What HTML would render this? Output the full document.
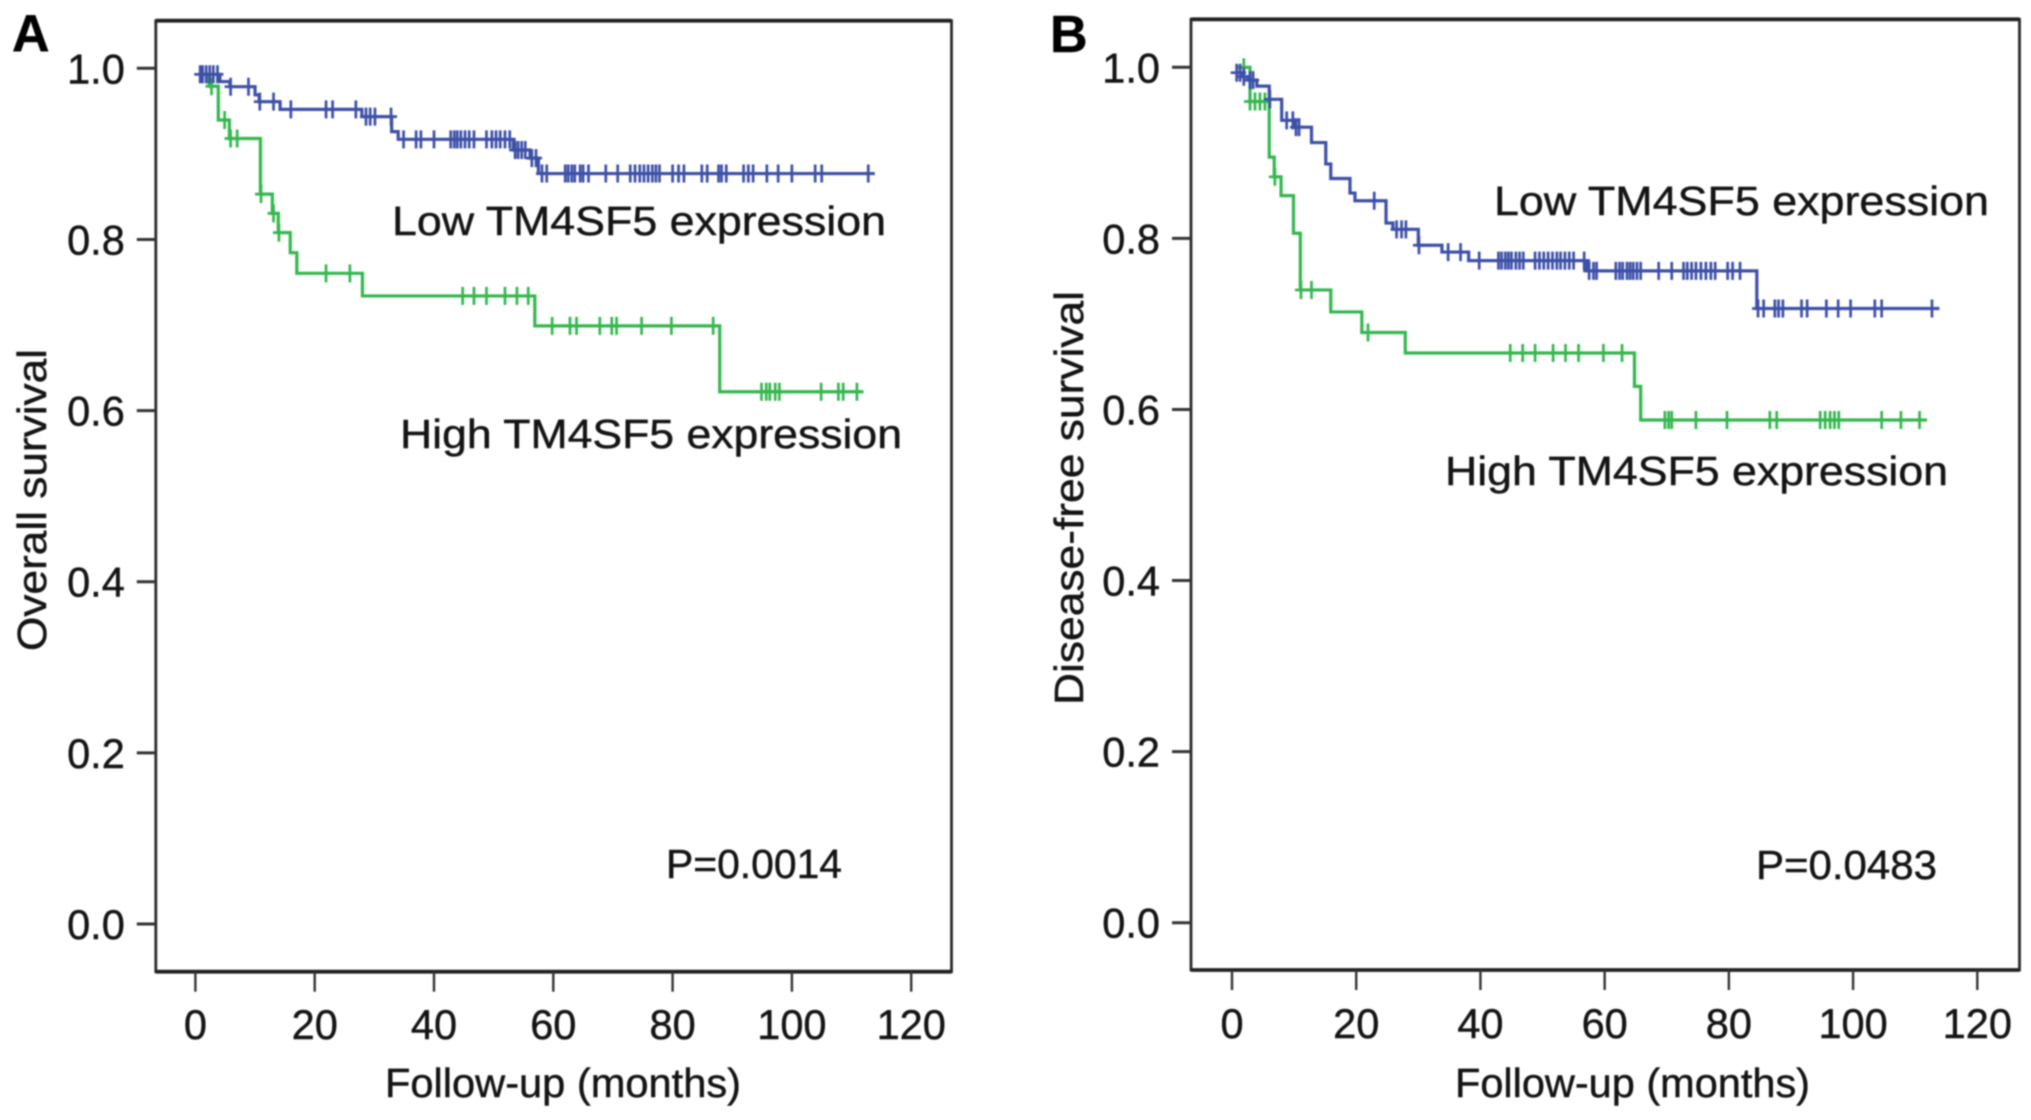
<!DOCTYPE html>
<html lang="en">
<head>
<meta charset="utf-8">
<title>Kaplan-Meier survival curves by TM4SF5 expression</title>
<style>
  html, body { margin: 0; padding: 0; background: #fff; }
  #figure { display: block; width: 2031px; height: 1120px; filter: blur(0.7px); }
  text { font-family: "Liberation Sans", Arial, sans-serif; fill: #141414; stroke: #141414; stroke-width: 0.45px; }
</style>
</head>
<body>
<svg id="figure" xmlns="http://www.w3.org/2000/svg" width="2031" height="1120" viewBox="0 0 2031 1120">
  <rect width="2031" height="1120" fill="#fff"/>

  <g id="panel-a">
    <text x="12" y="51" font-size="52" font-weight="bold" style="fill:#000">A</text>
    <text transform="translate(46,500) rotate(-90)" text-anchor="middle" font-size="41" textLength="302" lengthAdjust="spacingAndGlyphs">Overall survival</text>
    <text x="385" y="1097" font-size="41" textLength="356" lengthAdjust="spacingAndGlyphs">Follow-up (months)</text>
    <text x="392" y="235" font-size="41" textLength="494" lengthAdjust="spacingAndGlyphs">Low TM4SF5 expression</text>
    <text x="400" y="448" font-size="41" textLength="502" lengthAdjust="spacingAndGlyphs">High TM4SF5 expression</text>
    <text x="666" y="878" font-size="41" textLength="176" lengthAdjust="spacingAndGlyphs">P=0.0014</text>
  </g>

  <g id="panel-b">
    <text x="1050" y="52" font-size="52" font-weight="bold" style="fill:#000">B</text>
    <text transform="translate(1083,498) rotate(-90)" text-anchor="middle" font-size="41" textLength="414" lengthAdjust="spacingAndGlyphs">Disease-free survival</text>
    <text x="1455" y="1097" font-size="41" textLength="355" lengthAdjust="spacingAndGlyphs">Follow-up (months)</text>
    <text x="1494" y="215" font-size="41" textLength="495" lengthAdjust="spacingAndGlyphs">Low TM4SF5 expression</text>
    <text x="1445" y="485" font-size="41" textLength="503" lengthAdjust="spacingAndGlyphs">High TM4SF5 expression</text>
    <text x="1756" y="879" font-size="41" textLength="181" lengthAdjust="spacingAndGlyphs">P=0.0483</text>
  </g>
</svg>

<script>
// Shared axis tick values
const xTickValues = [0, 20, 40, 60, 80, 100, 120];
const yTickValues = [0.0, 0.2, 0.4, 0.6, 0.8, 1.0];
const yTickLabels = ["0.0", "0.2", "0.4", "0.6", "0.8", "1.0"];

// Panel A: overall survival
const lowTimesA  = [0.6, 4.1, 5.8, 10, 10.7, 14.2, 27.9, 32.9, 34, 53.3, 56.1, 57.5];
const lowSurvA   = [0.993, 0.9845, 0.9785, 0.969, 0.961, 0.952, 0.9435, 0.926, 0.917, 0.9045, 0.895, 0.877];
const lowEndA    = 113.9;
const lowCensorA = [0.8, 1.2, 1.8, 2.4, 3.0, 3.7, 5.9, 8.9, 10.8, 13.1, 16, 21.9, 23, 26.9, 28.6, 29.3, 30.1, 32.8, 34.9, 37, 37.8, 40, 42.8, 43.4, 43.9, 44.5, 45.2, 45.9, 46.7, 48.8, 49.7, 50.4, 51.1, 51.9, 52.7, 53.6, 54.1, 54.7, 55.3, 56.4, 57.1, 58.1, 58.9, 62, 62.5, 63.1, 63.6, 64.5, 65, 65.9, 68.8, 70.8, 72.9, 73.7, 74.5, 75.2, 75.9, 76.6, 77.2, 77.8, 80, 81, 81.9, 84.9, 85.8, 87.7, 88.2, 89, 91.9, 92.7, 93.5, 95.8, 97.7, 100, 103.9, 105, 112.8];
const highTimesA  = [0.7, 2.3, 3.84, 5.7, 10.9, 12.9, 13.9, 15.9, 17, 28, 56.9, 87.9];
const highSurvA   = [0.993, 0.979, 0.9396, 0.918, 0.853, 0.8305, 0.808, 0.7845, 0.7604, 0.734, 0.699, 0.622];
const highEndA    = 112;
const highCensorA = [2.7, 4.9, 5.9, 7, 11, 13.1, 14, 21.9, 25.9, 44.8, 46.7, 48.8, 51.9, 53.9, 55.8, 59.8, 62.8, 63.9, 67.8, 69.8, 70.6, 74.8, 79.8, 86.8, 94.9, 95.7, 96.3, 97.2, 97.9, 104.9, 107.8, 108.6, 110.9];

// Panel B: disease-free survival
const lowTimesB  = [0.5, 1.8, 2.6, 4.0, 6, 8, 10.1, 12.8, 15.1, 15.9, 19, 19.8, 24.8, 25.9, 30, 33.8, 38.1, 57.1, 84.5];
const lowSurvB   = [0.9937, 0.989, 0.985, 0.978, 0.9626, 0.938, 0.930, 0.912, 0.887, 0.870, 0.853, 0.844, 0.818, 0.8106, 0.792, 0.784, 0.774, 0.762, 0.718];
const lowEndB    = 113.9;
const lowCensorB = [0.75, 1.3, 1.9, 2.9, 3.4, 6.1, 8.8, 9.8, 10.3, 10.8, 22.9, 26.5, 27.3, 28, 30.1, 34.8, 36.8, 39.8, 42.9, 43.4, 44, 44.5, 45, 45.7, 46.3, 46.9, 48.8, 49.5, 50.2, 50.9, 51.6, 52.3, 52.9, 53.6, 54.3, 55, 56.7, 57.5, 58.2, 58.7, 61.8, 62.4, 62.9, 63.6, 64.1, 64.6, 65.2, 65.8, 68.7, 70.8, 72.7, 73.3, 74, 74.7, 75.5, 76.3, 77.1, 77.8, 79.8, 80.6, 81.8, 84.7, 85.6, 87.4, 88, 88.7, 91.7, 92.6, 95.7, 97.6, 99.6, 103.5, 104.6, 112.7];
const highTimesB  = [1.0, 2.9, 6, 6.8, 7.9, 9.9, 11, 15.9, 20.9, 27.9, 64.8, 65.8];
const highSurvB   = [1.0, 0.960, 0.895, 0.872, 0.850, 0.806, 0.7397, 0.714, 0.690, 0.666, 0.627, 0.5877];
const highEndB    = 111.9;
const highCensorB = [1.9, 2.9, 3.7, 4.5, 5.3, 6.9, 11.1, 12.8, 21.9, 44.8, 46.8, 48.8, 51.7, 53.7, 55.8, 59.8, 62.8, 69.7, 70.3, 70.8, 74.7, 79.7, 86.6, 87.7, 94.7, 95.5, 96.3, 97, 97.7, 104.6, 107.7, 110.7];

const SVG_NS = "http://www.w3.org/2000/svg";
const BLUE = "#3d50a8";
const GREEN = "#35b74f";

function svgEl(parent, tag, attrs) {
  const node = document.createElementNS(SVG_NS, tag);
  for (const key of Object.keys(attrs)) node.setAttribute(key, attrs[key]);
  parent.appendChild(node);
  return node;
}

function survivalAt(times, surv, t) {
  let value = surv[0];
  for (let i = 0; i < times.length; i++) {
    if (times[i] <= t) value = surv[i];
  }
  return value;
}

function drawSeries(group, xScale, yScale, times, surv, end, censor, color, label) {
  let d = "M" + xScale(times[0]) + " " + yScale(surv[0]);
  for (let i = 1; i < times.length; i++) {
    d += "H" + xScale(times[i]) + "V" + yScale(surv[i]);
  }
  d += "H" + xScale(end);
  const line = svgEl(group, "path", { d: d, fill: "none", stroke: color, "stroke-width": 3.2 });
  
  

  for (const t of censor) {
    const cx = xScale(t);
    const cy = yScale(survivalAt(times, surv, t));
    const mark = svgEl(group, "path", {
      d: "M" + (cx - 6) + " " + cy + "H" + (cx + 6) + "M" + cx + " " + (cy - 9) + "V" + (cy + 9),
      fill: "none", stroke: color, "stroke-width": 2.7
    });
    
    
  }
}

function drawPanel(group, box, suffix, seriesList) {
  const xScale = t => box.x0 + (box.x120 - box.x0) * t / 120;
  const yScale = s => box.y0 + (box.y1 - box.y0) * s;

  for (const series of seriesList) {
    drawSeries(group, xScale, yScale, series.times, series.surv, series.end, series.censor, series.color, series.label + "-" + suffix);
  }

  const frame = svgEl(group, "rect", {
    x: box.left, y: box.top, width: box.right - box.left, height: box.bottom - box.top,
    fill: "none", stroke: "#2a2a2a", "stroke-width": 2.8
  });
  
  

  const topEdge = svgEl(group, "line", {
    x1: box.left, x2: box.right, y1: box.top, y2: box.top, stroke: "#222", "stroke-width": 3.8
  });
  
  

  const bottomEdge = svgEl(group, "line", {
    x1: box.left, x2: box.right, y1: box.bottom, y2: box.bottom, stroke: "#222", "stroke-width": 3.8
  });
  
  

  for (const v of xTickValues) {
    const tick = svgEl(group, "line", {
      x1: xScale(v), x2: xScale(v), y1: box.bottom, y2: box.bottom + 20, stroke: "#333", "stroke-width": 2.4
    });
    
    
    const text = svgEl(group, "text", {
      x: xScale(v), y: box.xLabelY, "text-anchor": "middle", "font-size": 41.5
    });
    
    
    text.textContent = String(v);
  }

  yTickValues.forEach((v, i) => {
    const tick = svgEl(group, "line", {
      x1: box.left - 19, x2: box.left, y1: yScale(v), y2: yScale(v), stroke: "#333", "stroke-width": 3
    });
    
    
    const text = svgEl(group, "text", {
      x: box.left - 31, y: yScale(v) + 15, "text-anchor": "end", "font-size": 41.5
    });
    
    
    text.textContent = yTickLabels[i];
  });
}

drawPanel(document.getElementById("panel-a"),
  { left: 155.8, right: 951.5, top: 20.7, bottom: 971.7, x0: 195.4, x120: 911.2, y0: 924, y1: 68.3, xLabelY: 1039 },
  "a",
  [
    { times: highTimesA, surv: highSurvA, end: highEndA, censor: highCensorA, color: GREEN, label: "high-expression" },
    { times: lowTimesA, surv: lowSurvA, end: lowEndA, censor: lowCensorA, color: BLUE, label: "low-expression" }
  ]);

drawPanel(document.getElementById("panel-b"),
  { left: 1191, right: 2019.5, top: 19.3, bottom: 970, x0: 1232, x120: 1977.3, y0: 922.7, y1: 67.3, xLabelY: 1038 },
  "b",
  [
    { times: highTimesB, surv: highSurvB, end: highEndB, censor: highCensorB, color: GREEN, label: "high-expression" },
    { times: lowTimesB, surv: lowSurvB, end: lowEndB, censor: lowCensorB, color: BLUE, label: "low-expression" }
  ]);
</script>
</body>
</html>
